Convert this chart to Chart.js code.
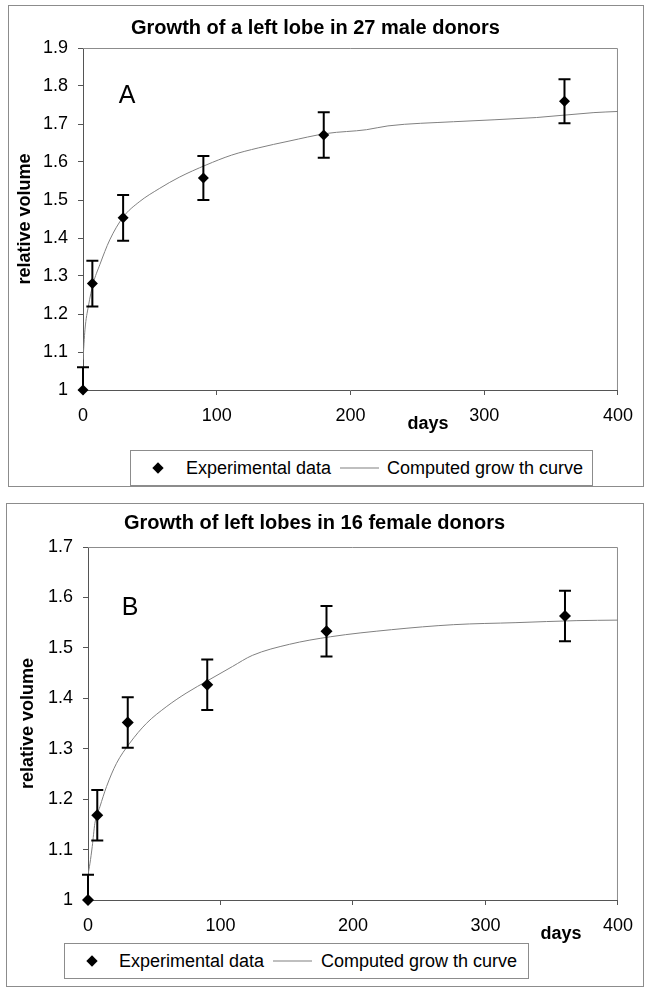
<!DOCTYPE html>
<html>
<head>
<meta charset="utf-8">
<script src="https://cdn.jsdelivr.net/npm/chart.js@4/dist/chart.umd.min.js"></script>
<style>
  body { margin: 0; width: 648px; height: 992px; position: relative; background: #fff;
         font-family: Arial, "Liberation Sans", sans-serif; color: #000; }
  .panel { position: absolute; border: 1px solid #8c8c8c; background: #fff; }
  .panel canvas { display: block; }
  .note { position: absolute; transform: translate(-50%, -50%); white-space: nowrap; }
  .days { font-size: 18px; font-weight: bold; }
  .letter { font-size: 25px; }
  .legend { position: absolute; border: 1px solid #8c8c8c; background: #fff; height: 34px; font-size: 18px; }
  .legend span { position: absolute; top: 50%; transform: translateY(-50%); white-space: nowrap; }
  .legend .dia { width: 8px; height: 8px; background: #000; margin-left: -4px;
                 transform: translateY(-50%) rotate(45deg); }
  .legend .ln { width: 39px; height: 0; border-top: 1px solid #808080; }
</style>
</head>
<body>

<div class="panel" id="panelA" style="left:8px;top:5px;width:634px;height:480px">
  <canvas id="chartA" width="634" height="480"></canvas>
</div>
<div class="panel" id="panelB" style="left:6px;top:503px;width:636px;height:482px">
  <canvas id="chartB" width="636" height="482"></canvas>
</div>

<div class="note letter" style="left:127px;top:94px">A</div>
<div class="note days" style="left:428px;top:423px">days</div>
<div class="legend" style="left:130px;top:450px;width:461px">
  <span class="dia" style="left:27px"></span>
  <span style="left:55px">Experimental data</span>
  <span class="ln" style="left:209px"></span>
  <span style="left:256px">Computed grow th curve</span>
</div>

<div class="note letter" style="left:130px;top:606px">B</div>
<div class="note days" style="left:561px;top:933px">days</div>
<div class="legend" style="left:64px;top:943px;width:463px">
  <span class="dia" style="left:27px"></span>
  <span style="left:54px">Experimental data</span>
  <span class="ln" style="left:208px"></span>
  <span style="left:256px">Computed grow th curve</span>
</div>

<script>
"use strict";

// shared x axis
var xTicks = [0, 100, 200, 300, 400];

// A: 27 male donors
var daysA = [0, 7, 30, 90, 180, 360];
var volumeA = [1.0, 1.28, 1.453, 1.558, 1.671, 1.76];
var errorA = [0.06, 0.06, 0.06, 0.058, 0.06, 0.058];
var curveDaysA = [0, 1.5, 4, 7.6, 12.6, 20, 30, 42, 57, 72, 92, 111, 131, 154, 182, 212, 228, 277, 339, 382, 400];
var curveVolumeA = [1.08, 1.16, 1.22, 1.28, 1.33, 1.395, 1.455, 1.495, 1.53, 1.56, 1.592, 1.618, 1.637, 1.655, 1.675, 1.685, 1.695, 1.706, 1.717, 1.73, 1.733];
var yTicksA = [1, 1.1, 1.2, 1.3, 1.4, 1.5, 1.6, 1.7, 1.8, 1.9];

// B: 16 female donors
var daysB = [0, 7, 30, 90, 180, 360];
var volumeB = [1.0, 1.168, 1.352, 1.427, 1.533, 1.563];
var errorB = [0.05, 0.05, 0.05, 0.05, 0.05, 0.05];
var curveDaysB = [0, 1.5, 3.2, 5.2, 9, 14, 21.5, 31.5, 44, 59, 74, 91, 109, 124, 152, 183, 229, 276, 323, 369, 400];
var curveVolumeB = [1.05, 1.073, 1.106, 1.152, 1.185, 1.225, 1.271, 1.311, 1.35, 1.383, 1.41, 1.436, 1.463, 1.485, 1.507, 1.522, 1.536, 1.546, 1.55, 1.554, 1.555];
var yTicksB = [1, 1.1, 1.2, 1.3, 1.4, 1.5, 1.6, 1.7];

Chart.defaults.font.family = 'Arial, "Liberation Sans", sans-serif';
Chart.defaults.color = '#000';

function toPoints(xs, ys) {
    return xs.map(function (x, i) { return { x: x, y: ys[i] }; });
}

// gray frame round the plot area (top and right sides)
var plotFrame = {
    id: 'plotFrame',
    beforeDatasetsDraw: function (chart) {
        var a = chart.chartArea, ctx = chart.ctx;
        ctx.save();
        ctx.strokeStyle = '#8c8c8c';
        ctx.lineWidth = 1;
        ctx.beginPath();
        ctx.moveTo(a.left, a.top + 0.5);
        ctx.lineTo(a.right - 0.5, a.top + 0.5);
        ctx.lineTo(a.right - 0.5, a.bottom);
        ctx.stroke();
        ctx.restore();
    }
};

// vertical error bars with caps, read from dataset.errors
var errorBars = {
    id: 'errorBars',
    afterDatasetsDraw: function (chart) {
        var ds = chart.data.datasets[0];
        var xs = chart.scales.x, ys = chart.scales.y, a = chart.chartArea, ctx = chart.ctx;
        ctx.save();
        ctx.beginPath();
        ctx.rect(a.left - 10, a.top, a.right - a.left + 20, a.bottom - a.top);
        ctx.clip();
        ctx.strokeStyle = '#000';
        ctx.lineWidth = 2;
        ds.data.forEach(function (p, i) {
            var px = xs.getPixelForValue(p.x);
            var top = ys.getPixelForValue(p.y + ds.errors[i]);
            var bot = ys.getPixelForValue(p.y - ds.errors[i]);
            ctx.beginPath();
            ctx.moveTo(px, top); ctx.lineTo(px, bot);
            ctx.moveTo(px - 6, top); ctx.lineTo(px + 6, top);
            ctx.moveTo(px - 6, bot); ctx.lineTo(px + 6, bot);
            ctx.stroke();
        });
        ctx.restore();
    }
};

function makeChart(id, cfg) {
    return new Chart(document.getElementById(id).getContext('2d'), {
        type: 'scatter',
        data: {
            datasets: [{
                label: 'Experimental data',
                data: toPoints(cfg.days, cfg.volume),
                errors: cfg.errors,
                pointStyle: 'rectRot',
                pointRadius: cfg.radius,
                backgroundColor: '#000',
                borderColor: '#000',
                borderWidth: 0,
                clip: false
            },
            {
                type: 'line',
                label: 'Computed grow th curve',
                data: toPoints(cfg.curveDays, cfg.curveVolume),
                borderColor: '#808080',
                borderWidth: 1,
                pointRadius: 0,
                cubicInterpolationMode: 'monotone',
                fill: false
            }]
        },
        options: {
            responsive: false,
            animation: false,
            layout: { padding: { left: 0, right: cfg.padRight, top: 0, bottom: 0 } },
            plugins: {
                legend: { display: false },
                tooltip: { enabled: false },
                title: {
                    display: true,
                    text: cfg.title,
                    color: '#000',
                    font: { size: 20, weight: 'bold' },
                    padding: { top: cfg.titleTop, bottom: cfg.titleBottom }
                }
            },
            scales: {
                x: {
                    min: 0,
                    max: 400,
                    afterBuildTicks: function (s) { s.ticks = xTicks.map(function (v) { return { value: v }; }); },
                    afterFit: function (s) { s.height = cfg.xHeight; },
                    ticks: { font: { size: 18 }, color: '#000', padding: 10, maxRotation: 0 },
                    grid: { drawOnChartArea: false, color: '#555', tickLength: 5 },
                    border: { color: '#555', width: 1 }
                },
                y: {
                    min: 1,
                    max: cfg.yTicks[cfg.yTicks.length - 1],
                    afterBuildTicks: function (s) { s.ticks = cfg.yTicks.map(function (v) { return { value: v }; }); },
                    afterFit: function (s) { s.width = cfg.yWidth; },
                    ticks: { font: { size: 18 }, color: '#000', padding: 10, callback: function (v) { return String(v); } },
                    grid: { drawOnChartArea: false, color: '#555', tickLength: 5 },
                    border: { color: '#555', width: 1 },
                    title: {
                        display: true,
                        text: 'relative volume',
                        color: '#000',
                        font: { size: 18, weight: 'bold' },
                        padding: { top: cfg.yTitlePad, bottom: 0 }
                    }
                }
            }
        },
        plugins: [plotFrame, errorBars]
    });
}

var chartA = makeChart('chartA', {
    title: 'Growth of a left lobe in 27 male donors',
    days: daysA, volume: volumeA, errors: errorA,
    curveDays: curveDaysA, curveVolume: curveVolumeA,
    yTicks: yTicksA, radius: 5.5,
    titleTop: 10, titleBottom: 8,
    yWidth: 74, xHeight: 96, padRight: 21, yTitlePad: 5.2
});

var chartB = makeChart('chartB', {
    title: 'Growth of left lobes in 16 female donors',
    days: daysB, volume: volumeB, errors: errorB,
    curveDays: curveDaysB, curveVolume: curveVolumeB,
    yTicks: yTicksB, radius: 6,
    titleTop: 7, titleBottom: 12,
    yWidth: 81, xHeight: 86, padRight: 21, yTitlePad: 10.2
});
</script>
</body>
</html>
